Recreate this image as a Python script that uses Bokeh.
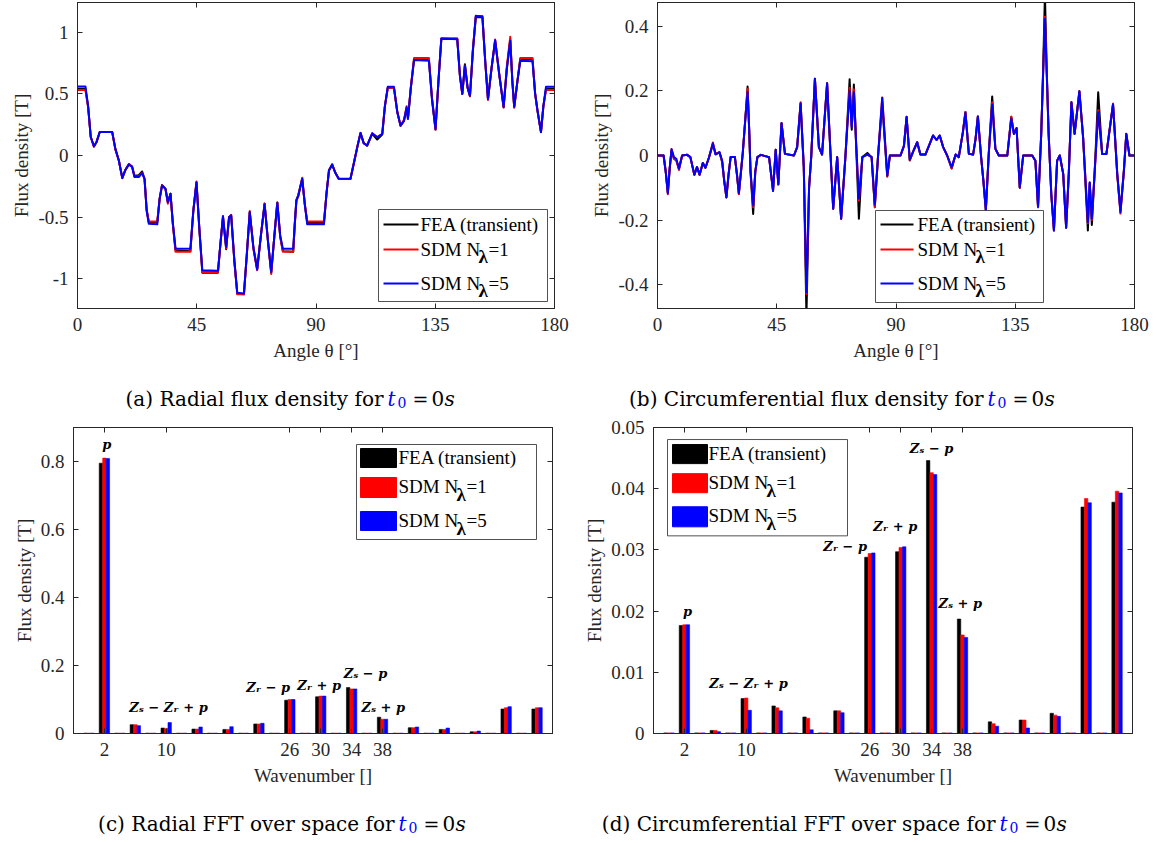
from bokeh.plotting import figure
from bokeh.models import (LinearAxis, FixedTicker, Range1d, PrintfTickFormatter, ColumnDataSource,
                          CustomJSTickFormatter)
from bokeh.layouts import column, row
from bokeh.core.properties import value
from bokeh.transform import dodge
from bokeh.embed import file_html
from bokeh.resources import INLINE

# ---------------- data ----------------
series_names = ["FEA (transient)", "SDM N=1", "SDM N=5"]

# (a) radial flux density vs angle
theta_r = [0, 3.0, 4.0, 5.0, 6.2, 7.2, 8.4, 13.1, 14.3, 15.6, 16.9, 18.0, 19.4, 20.6, 21.5, 23.1,
           24.4, 25.3, 26.1, 26.9, 30.1, 31.0, 31.9, 33.2, 34.1, 35.1, 36.0, 37.0, 42.6, 43.7,
           44.9, 46.0, 47.1, 53.0, 54.0, 54.9, 56.1, 57.2, 58.0, 59.2, 60.3, 62.8, 63.9, 65.0,
           66.4, 67.8, 69.2, 70.6, 71.9, 73.1, 74.3, 75.4, 76.5, 77.5, 81.4, 82.0, 82.6, 83.3,
           84.8, 85.8, 86.7, 93.0, 94.0, 94.9, 96.1, 97.3, 98.6, 103.0, 104.5, 105.7, 106.8,
           108.0, 109.3, 111.2, 113.1, 115.0, 116.0, 117.1, 119.4, 120.7, 121.9, 123.2, 124.2,
           124.7, 125.8, 127.0, 132.6, 133.8, 135.1, 136.2, 137.3, 143.3, 144.3, 145.2, 146.2,
           147.2, 148.1, 149.2, 150.3, 152.8, 153.9, 154.9, 156.2, 157.6, 159.2, 160.8, 162.0,
           163.3, 164.1, 164.8, 166.0, 167.1, 171.7, 172.7, 173.6, 174.9, 175.8, 176.8, 180]
br_sdm5 = [0.56, 0.56, 0.40, 0.15, 0.075, 0.11, 0.19, 0.19, 0.054, -0.04, -0.183, -0.12, -0.073,
           -0.094, -0.175, -0.175, -0.143, -0.19, -0.45, -0.553, -0.558, -0.35, -0.243, -0.27,
           -0.377, -0.31, -0.55, -0.755, -0.755, -0.45, -0.216, -0.6, -0.93, -0.935, -0.7,
           -0.493, -0.741, -0.5, -0.485, -0.85, -1.113, -1.119, -0.8, -0.458, -0.75, -0.924,
           -0.65, -0.396, -0.7, -0.943, -0.65, -0.385, -0.65, -0.755, -0.755, -0.55, -0.364,
           -0.33, -0.189, -0.40, -0.558, -0.558, -0.30, -0.121, -0.073, -0.14, -0.189, -0.189,
           -0.04, 0.08, 0.183, 0.10, 0.081, 0.18, 0.148, 0.175, 0.40, 0.558, 0.558, 0.35, 0.243,
           0.283, 0.391, 0.296, 0.55, 0.774, 0.768, 0.45, 0.216, 0.60, 0.949, 0.943, 0.65, 0.499,
           0.728, 0.55, 0.485, 0.85, 1.132, 1.124, 0.75, 0.458, 0.70, 0.935, 0.65, 0.396, 0.70,
           0.93, 0.60, 0.396, 0.60, 0.768, 0.763, 0.50, 0.364, 0.189, 0.40, 0.558, 0.558]
br_sdm1 = [0.53, 0.53, 0.39, 0.15, 0.07, 0.11, 0.19, 0.19, 0.05, -0.04, -0.185, -0.12, -0.07,
           -0.09, -0.17, -0.17, -0.14, -0.19, -0.44, -0.535, -0.535, -0.35, -0.24, -0.27,
           -0.39, -0.31, -0.56, -0.78, -0.78, -0.45, -0.21, -0.6, -0.945, -0.945, -0.7,
           -0.49, -0.75, -0.5, -0.48, -0.86, -1.125, -1.125, -0.8, -0.45, -0.76, -0.93,
           -0.65, -0.39, -0.7, -0.96, -0.65, -0.38, -0.66, -0.78, -0.78, -0.56, -0.37,
           -0.33, -0.18, -0.40, -0.535, -0.535, -0.30, -0.12, -0.07, -0.14, -0.19, -0.19,
           -0.04, 0.08, 0.185, 0.10, 0.08, 0.18, 0.15, 0.175, 0.40, 0.55, 0.55, 0.35, 0.24,
           0.29, 0.40, 0.30, 0.56, 0.79, 0.79, 0.46, 0.21, 0.60, 0.95, 0.95, 0.65, 0.50,
           0.73, 0.55, 0.48, 0.86, 1.13, 1.13, 0.75, 0.45, 0.70, 0.94, 0.65, 0.39, 0.72,
           0.962, 0.60, 0.39, 0.60, 0.79, 0.79, 0.50, 0.36, 0.19, 0.40, 0.53, 0.53]
br_fea = [0.54, 0.54, 0.40, 0.15, 0.075, 0.11, 0.19, 0.19, 0.05, -0.04, -0.18, -0.12, -0.07,
          -0.09, -0.165, -0.16, -0.13, -0.19, -0.44, -0.54, -0.54, -0.35, -0.24, -0.27,
          -0.38, -0.31, -0.56, -0.77, -0.775, -0.45, -0.22, -0.6, -0.95, -0.95, -0.7,
          -0.5, -0.76, -0.5, -0.49, -0.86, -1.12, -1.125, -0.8, -0.46, -0.75, -0.92,
          -0.65, -0.39, -0.7, -0.95, -0.65, -0.38, -0.66, -0.775, -0.78, -0.55, -0.36,
          -0.32, -0.19, -0.40, -0.545, -0.545, -0.30, -0.12, -0.075, -0.14, -0.19, -0.19,
          -0.04, 0.08, 0.18, 0.10, 0.08, 0.175, 0.13, 0.17, 0.40, 0.55, 0.55, 0.35, 0.24,
          0.28, 0.38, 0.30, 0.55, 0.78, 0.78, 0.45, 0.21, 0.60, 0.945, 0.945, 0.65, 0.50,
          0.74, 0.55, 0.48, 0.85, 1.12, 1.12, 0.75, 0.455, 0.70, 0.93, 0.65, 0.39, 0.70,
          0.94, 0.60, 0.39, 0.60, 0.785, 0.78, 0.50, 0.36, 0.19, 0.40, 0.54, 0.54]

# (b) circumferential flux density vs angle
theta_c = [0, 2.3, 3.1, 3.9, 4.6, 5.3, 6.2, 7.1, 8.1, 9.3, 11.2, 12.4, 13.9, 14.9, 15.9, 17.1,
           18.1, 19.4, 20.9, 21.9, 23.4, 24.4, 25.2, 26.0, 26.8, 27.6, 29.2, 30.0, 30.7, 31.5,
           32.2, 33.2, 34.0, 34.6, 35.1, 36.1, 36.9, 37.7, 39.0, 42.1, 43.6, 44.6, 45.6, 46.8,
           48.1, 51.5, 52.7, 54.0, 55.2, 56.2, 57.2, 58.0, 59.4, 60.9, 62.1, 64.0, 65.2, 66.3,
           67.8, 69.3, 70.9, 72.5, 73.3, 74.1, 75.0, 76.0, 77.3, 79.2, 80.8, 82.0, 83.2, 84.8,
           86.7, 87.7, 91.7, 93.0, 94.0, 95.2, 96.5, 98.0, 99.2, 101.1, 104.0, 105.3, 106.5,
           107.8, 109.3, 111.0, 112.5, 113.7, 115.2, 116.2, 117.5, 119.1, 120.0, 120.9, 122.1,
           123.0, 123.9, 125.0, 126.3, 127.5, 128.8, 132.0, 133.5, 134.5, 135.5, 136.7, 138.0,
           141.4, 142.6, 143.6, 144.8, 145.5, 146.2, 146.9, 147.6, 148.6, 149.6, 150.8, 151.8,
           153.1, 154.2, 155.2, 156.2, 157.4, 159.2, 160.6, 162.4, 163.1, 163.9, 165.0, 166.3,
           167.8, 169.4, 171.9, 173.5, 174.7, 176.0, 176.9, 178.1, 180]
bc_sdm5 = [0, 0, -0.05, -0.117, -0.04, 0.019, -0.005, -0.01, -0.041, 0, 0.002, -0.005, -0.059,
           -0.036, -0.059, -0.023, -0.038, -0.007, 0.038, 0.003, 0.01, -0.016, -0.08, -0.129,
           -0.06, -0.005, -0.005, -0.06, -0.117, -0.05, 0.01, 0.12, 0.196, 0.08, -0.047, -0.155,
           -0.05, -0.005, 0.002, -0.005, -0.109, 0.018, -0.088, 0.101, 0.005, 0, 0.026, 0.162,
           -0.036, -0.424, -0.098, -0.005, 0.238, 0.026, 0.003, 0.224, 0.02, -0.165, -0.005,
           -0.196, -0.005, 0.2, 0.088, 0.196, 0.03, -0.134, -0.005, 0.003, -0.005, -0.152,
           -0.005, 0.179, -0.062, 0, 0, 0.03, 0.119, -0.013, 0.013, 0.041, 0.003, 0.003, 0.062,
           0.048, 0.062, 0.026, 0, -0.036, 0.003, -0.005, 0.07, 0.132, 0.005, 0.003, 0.05, 0.121,
           -0.003, -0.08, -0.168, 0.005, 0.158, 0.021, 0, 0, 0.114, 0.067, 0.085, -0.098, 0, 0,
           -0.016, -0.158, 0.067, 0.25, 0.424, 0.25, 0.067, -0.12, -0.232, -0.016, 0, -0.057,
           -0.224, -0.057, 0.165, 0.067, 0.199, 0.057, -0.207, -0.083, -0.196, -0.047, 0.134,
           0.005, 0.005, 0.158, -0.057, -0.176, -0.047, 0.067, 0, 0]
bc_sdm1 = [0, 0, -0.05, -0.12, -0.04, 0.02, -0.01, -0.015, -0.045, 0, 0.002, -0.005, -0.06,
           -0.036, -0.06, -0.023, -0.038, -0.007, 0.04, 0.005, 0.01, -0.02, -0.08, -0.13,
           -0.06, -0.005, -0.005, -0.06, -0.12, -0.05, 0.01, 0.12, 0.207, 0.08, -0.05, -0.16,
           -0.05, -0.005, 0.002, -0.005, -0.11, 0.018, -0.09, 0.10, 0.005, 0, 0.026, 0.165,
           -0.036, -0.43, -0.1, -0.005, 0.238, 0.026, 0.003, 0.224, 0.02, -0.165, -0.005,
           -0.196, -0.005, 0.21, 0.09, 0.205, 0.03, -0.14, -0.005, 0.003, -0.005, -0.16,
           -0.005, 0.18, -0.065, 0, 0, 0.03, 0.12, -0.015, 0.013, 0.041, 0.003, 0.003, 0.062,
           0.048, 0.062, 0.026, 0, -0.04, 0.003, -0.005, 0.07, 0.135, 0.005, 0.003, 0.05, 0.121,
           -0.003, -0.08, -0.17, 0.005, 0.165, 0.021, 0, 0, 0.12, 0.067, 0.085, -0.1, 0, 0,
           -0.016, -0.16, 0.067, 0.25, 0.43, 0.25, 0.067, -0.12, -0.232, -0.016, 0, -0.057,
           -0.224, -0.057, 0.165, 0.067, 0.199, 0.057, -0.21, -0.085, -0.2, -0.047, 0.14,
           0.005, 0.005, 0.16, -0.06, -0.18, -0.047, 0.067, 0, 0]
bc_fea = [0, 0, -0.05, -0.115, -0.04, 0.015, -0.01, -0.015, -0.04, 0, 0.002, -0.005, -0.06,
          -0.036, -0.06, -0.023, -0.038, -0.007, 0.035, 0.005, 0.01, -0.02, -0.08, -0.13,
          -0.06, -0.005, -0.005, -0.06, -0.118, -0.05, 0.01, 0.12, 0.214, 0.08, -0.05, -0.181,
          -0.05, -0.005, 0.002, -0.005, -0.11, 0.018, -0.09, 0.10, 0.005, 0, 0.026, 0.16,
          -0.036, -0.50, -0.1, -0.005, 0.238, 0.026, 0.003, 0.224, 0.02, -0.165, -0.005,
          -0.196, -0.005, 0.236, 0.08, 0.22, 0.02, -0.196, -0.005, 0.008, -0.005, -0.16,
          -0.005, 0.16, -0.065, 0, 0, 0.03, 0.12, -0.015, 0.013, 0.041, 0.003, 0.003, 0.062,
          0.048, 0.062, 0.026, 0, -0.04, 0.003, -0.005, 0.07, 0.135, 0.005, 0.003, 0.05, 0.121,
          -0.003, -0.08, -0.17, 0.005, 0.183, 0.021, 0, 0, 0.12, 0.067, 0.085, -0.1, 0, 0,
          -0.016, -0.16, 0.067, 0.26, 0.50, 0.26, 0.067, -0.12, -0.232, -0.016, 0, -0.057,
          -0.224, -0.057, 0.165, 0.067, 0.199, 0.057, -0.232, -0.085, -0.215, -0.047, 0.196,
          0.005, 0.005, 0.16, -0.06, -0.17, -0.047, 0.067, 0, 0]

# (c), (d) FFT over space
wavenumber = [0, 2, 4, 6, 8, 10, 12, 14, 16, 18, 20, 22, 24, 26, 28, 30, 32, 34, 36, 38, 40,
              42, 44, 46, 48, 50, 52, 54, 56, 58]
fft_r_fea = [0.001, 0.795, 0.001, 0.026, 0.001, 0.016, 0.001, 0.013, 0.001, 0.012, 0.001, 0.028,
             0.001, 0.098, 0.001, 0.108, 0.001, 0.135, 0.001, 0.048, 0.001, 0.017, 0.001, 0.012,
             0.001, 0.005, 0.001, 0.072, 0.001, 0.072]
fft_r_sdm1 = [0.001, 0.810, 0.001, 0.026, 0.001, 0.015, 0.001, 0.013, 0.001, 0.012, 0.001, 0.028,
              0.001, 0.100, 0.001, 0.110, 0.001, 0.131, 0.001, 0.042, 0.001, 0.017, 0.001, 0.012,
              0.001, 0.005, 0.001, 0.076, 0.001, 0.076]
fft_r_sdm5 = [0.001, 0.809, 0.001, 0.023, 0.001, 0.032, 0.001, 0.019, 0.001, 0.020, 0.001, 0.030,
              0.001, 0.100, 0.001, 0.110, 0.001, 0.131, 0.001, 0.042, 0.001, 0.019, 0.001, 0.016,
              0.001, 0.007, 0.001, 0.079, 0.001, 0.076]
fft_c_fea = [0.0001, 0.01765, 0.0001, 0.0005, 0.0001, 0.0057, 0.0001, 0.0045, 0.0001, 0.0027,
             0.0001, 0.0037, 0.0001, 0.0288, 0.0001, 0.0297, 0.0001, 0.0446, 0.0001, 0.0187,
             0.0001, 0.0019, 0.0001, 0.0022, 0.0001, 0.0033, 0.0001, 0.0370, 0.0001, 0.0378]
fft_c_sdm1 = [0.0001, 0.01776, 0.0001, 0.0005, 0.0001, 0.0058, 0.0001, 0.0042, 0.0001, 0.0025,
              0.0001, 0.0037, 0.0001, 0.0294, 0.0001, 0.0304, 0.0001, 0.0426, 0.0001, 0.0161,
              0.0001, 0.0016, 0.0001, 0.0022, 0.0001, 0.0030, 0.0001, 0.0384, 0.0001, 0.0396]
fft_c_sdm5 = [0.0001, 0.01776, 0.0001, 0.0003, 0.0001, 0.0038, 0.0001, 0.0037, 0.0001, 0.0006,
              0.0001, 0.0034, 0.0001, 0.0295, 0.0001, 0.0305, 0.0001, 0.0423, 0.0001, 0.0157,
              0.0001, 0.0012, 0.0001, 0.0009, 0.0001, 0.0028, 0.0001, 0.0377, 0.0001, 0.0393]

harmonic_labels = ["p", "Zₛ − Zᵣ + p", "Zᵣ − p", "Zᵣ + p", "Zₛ − p", "Zₛ + p"]
harm_x_r = [2.3, 10.3, 23.2, 29.8, 35.8, 38.1]
harm_y_r = [0.85, 0.077, 0.136, 0.142, 0.177, 0.077]
harm_x_c = [2.4, 10.3, 22.8, 29.3, 34.0, 37.7]
harm_y_c = [0.0200, 0.0082, 0.0305, 0.0338, 0.0466, 0.0213]

angle_ticks = [0, 45, 90, 135, 180]
wn_ticks = [2, 10, 26, 30, 34, 38]
yticks_a = [-1, -0.5, 0, 0.5, 1]
yticks_b = [-0.4, -0.2, 0, 0.2, 0.4]
yticks_c = [0, 0.2, 0.4, 0.6, 0.8]
yticks_d = [0, 0.01, 0.02, 0.03, 0.04, 0.05]

# ---------------- styling ----------------
AX = "#262626"
SERIF = "Liberation Serif"
CAPF = "DejaVu Serif"
COLORS = ["#000000", "#ff0000", "#0000ff"]
FS = "19px"


def base_fig(xr, yr, fw, fh, bl, br, bt, bb, xticks, yticks, xlabel):
    p = figure(x_range=Range1d(*xr), y_range=Range1d(*yr), frame_width=fw, frame_height=fh,
               min_border_left=bl, min_border_right=br, min_border_top=bt, min_border_bottom=bb,
               toolbar_location=None, output_backend="svg", title_location=None)
    p.grid.visible = False
    p.outline_line_color = AX
    p.outline_line_width = 1
    p.xaxis.ticker = FixedTicker(ticks=xticks)
    p.yaxis.ticker = FixedTicker(ticks=yticks)
    p.yaxis.formatter = PrintfTickFormatter(format="%g")
    p.xaxis.axis_label = xlabel
    p.yaxis.axis_label = "Flux density [T]"
    for ax in (p.xaxis[0], p.yaxis[0]):
        ax.major_tick_in = 5
        ax.major_tick_out = 0
        ax.minor_tick_in = 0
        ax.minor_tick_out = 0
        ax.axis_line_color = AX
        ax.major_tick_line_color = AX
        ax.major_label_text_font = SERIF
        ax.major_label_text_font_size = FS
        ax.major_label_text_color = AX
        ax.axis_label_text_font = SERIF
        ax.axis_label_text_font_size = FS
        ax.axis_label_text_font_style = "normal"
        ax.axis_label_text_color = AX
        ax.major_label_standoff = 9
        ax.axis_label_standoff = 3
    p.xaxis[0].axis_label_standoff = 6
    for loc, ticks in (("above", xticks), ("right", yticks)):
        a = LinearAxis(ticker=FixedTicker(ticks=ticks),
                       formatter=CustomJSTickFormatter(code="return ''"),
                       major_tick_in=5, major_tick_out=0, minor_tick_in=0, minor_tick_out=0,
                       axis_line_color=AX, major_tick_line_color=AX, major_label_standoff=0)
        p.add_layout(a, loc)
    return p


def converters(xr, yr, rw, rh):
    X = lambda px: xr[0] + px / rw * (xr[1] - xr[0])
    Y = lambda py: yr[1] - py / rh * (yr[1] - yr[0])
    DX = lambda px: px / rw * (xr[1] - xr[0])
    DY = lambda py: py / rh * (yr[1] - yr[0])
    return X, Y, DX, DY


def legend_text(p, x, y, idx, DX, DY, lam_dx, eq_dx, lam_dy):
    common = dict(text_font=value(SERIF), text_font_size=value(FS), text_color="black",
                  text_baseline="middle", text_align="left")
    if idx == 0:
        p.text(x=[x], y=[y], text=[series_names[0]], **common)
    else:
        p.text(x=[x], y=[y], text=["SDM N"], **common)
        p.text(x=[x + DX(lam_dx)], y=[y - DY(lam_dy)], text=["λ"], text_font_style="bold", **common)
        p.text(x=[x + DX(eq_dx)], y=[y], text=["=" + series_names[idx].split("=")[1]], **common)


def line_legend(p, xr, yr, rw, rh, box, lx, tx, rows):
    X, Y, DX, DY = converters(xr, yr, rw, rh)
    p.quad(left=[X(box[0])], right=[X(box[1])], top=[Y(box[2])], bottom=[Y(box[3])],
           fill_color="white", line_color=AX, line_width=0.8)
    for i, r in enumerate(rows):
        p.line(x=[X(lx[0]), X(lx[1])], y=[Y(r), Y(r)], line_color=COLORS[i], line_width=2)
        legend_text(p, X(tx), Y(r), i, DX, DY, 58, 68, 7)


def patch_legend(p, xr, yr, rw, rh, box, px, tx, rows):
    X, Y, DX, DY = converters(xr, yr, rw, rh)
    p.quad(left=[X(box[0])], right=[X(box[1])], top=[Y(box[2])], bottom=[Y(box[3])],
           fill_color="white", line_color=AX, line_width=0.8)
    for i, (t, b) in enumerate(rows):
        p.quad(left=[X(px[0])], right=[X(px[1])], top=[Y(t)], bottom=[Y(b)],
               fill_color=COLORS[i], line_color=COLORS[i])
        legend_text(p, X(tx), Y((t + b) / 2 - 1), i, DX, DY, 58, 68, 8)


# ---------------- (a) ----------------
xa, ya = (0, 180), (-1.24, 1.24)
pa = base_fig(xa, ya, 477, 306, 77, 26, 2, 58, angle_ticks, yticks_a, "Angle θ [°]")
for ys, c in zip([br_fea, br_sdm1, br_sdm5], COLORS):
    pa.line(theta_r, ys, line_color=c, line_width=2, line_join="round")
line_legend(pa, xa, ya, 477, 306, (301, 470, 207, 299), (306, 341), 343, (222, 247, 281))

# ---------------- (b) ----------------
xb, yb = (0, 180), (-0.474, 0.474)
pb = base_fig(xb, yb, 477, 306, 77, 25, 2, 58, angle_ticks, yticks_b, "Angle θ [°]")
for ys, c in zip([bc_fea, bc_sdm1, bc_sdm5], COLORS):
    pb.line(theta_c, ys, line_color=c, line_width=2, line_join="round")
line_legend(pb, xb, yb, 477, 306, (218, 386, 208, 300), (223, 256), 260, (222, 247, 281))

# ---------------- (c), (d) ----------------
OFFS = [-0.45, 0.0, 0.45]


def bar_panel(xr, yr, bl, br, yticks, vals, hx, hy):
    p = base_fig(xr, yr, 479, 306, bl, br, 9, 58, wn_ticks, yticks, "Wavenumber []")
    src = ColumnDataSource(dict(wn=wavenumber, fea=vals[0], s1=vals[1], s5=vals[2]))
    for key, off, c in zip(["fea", "s1", "s5"], OFFS, COLORS):
        p.vbar(x=dodge("wn", off), top=key, bottom=0, width=0.44, source=src,
               fill_color=c, line_color=c, line_width=0.6)
    p.text(x=hx, y=hy, text=harmonic_labels, text_font=value("DejaVu Serif"),
           text_font_size=value("13px"), text_font_style="bold italic",
           text_align="center", text_baseline="middle", text_color="black")
    return p


xc, yc = (-2, 60), (0, 0.9)
pc = bar_panel(xc, yc, 73, 28, yticks_c, [fft_r_fea, fft_r_sdm1, fft_r_sdm5], harm_x_r, harm_y_r)
patch_legend(pc, xc, yc, 479, 306, (283, 463, 17, 112), (287, 323), 325,
             [(21, 40), (50, 70), (84, 103)])

xd, yd = (-2, 60), (0, 0.05)
pd_ = bar_panel(xd, yd, 73, 27, yticks_d, [fft_c_fea, fft_c_sdm1, fft_c_sdm5], harm_x_c, harm_y_c)
patch_legend(pd_, xd, yd, 479, 305, (14, 194, 12, 108), (19, 54), 55,
             [(17, 36), (46, 65), (79, 99)])


# ---------------- captions ----------------
def caption_fig(H, items):
    c = figure(x_range=Range1d(0, 1159), y_range=Range1d(0, H), width=1159, height=H,
               toolbar_location=None, output_backend="svg", x_axis_type=None, y_axis_type=None,
               min_border=0, outline_line_color=None, title_location=None)
    c.grid.visible = False
    for text, tx, base in items:
        c.text(x=[tx], y=[base], text=[text], text_font=value(CAPF), text_font_size=value("20px"),
               text_align="right", text_baseline="alphabetic", text_color="black")
        pieces = [("t", 4, 0, "italic", "20px", "#0000ff"),
                  ("0", 14, -4, "normal", "14px", "#0000ff"),
                  ("=", 29, 0, "normal", "19px", "black"),
                  ("0", 48, 0, "normal", "20px", "black"),
                  ("s", 61, 0, "italic", "20px", "black")]
        for t, dx, dy, st, fs, col in pieces:
            c.text(x=[tx + dx], y=[base + dy], text=[t], text_font=value(CAPF),
                   text_font_size=value(fs), text_font_style=st, text_align="left",
                   text_baseline="alphabetic", text_color=col)
    return c


cap1 = caption_fig(52, [("(a) Radial flux density for", 383, 20),
                        ("(b) Circumferential flux density for", 983, 20)])
cap2 = caption_fig(50, [("(c) Radial FFT over space for", 394, 18),
                        ("(d) Circumferential FFT over space for", 995, 18)])

layout = column(row(pa, pb), cap1, row(pc, pd_), cap2)
open("out.html", "w").write(file_html(layout, INLINE))
